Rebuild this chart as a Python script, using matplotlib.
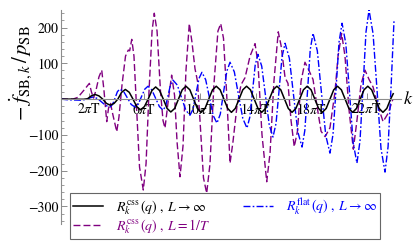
import matplotlib
matplotlib.use('Agg')
import matplotlib.pyplot as plt
from matplotlib.ticker import MultipleLocator

plt.rcParams['font.family'] = 'STIXGeneral'
plt.rcParams['mathtext.fontset'] = 'stix'

# k in units of pi*T

# R_k^css(q), L -> infinity  (black, solid)
k_css_inf = [0, 1.0, 1.36, 1.63, 1.91, 2.18, 2.45, 2.73, 3.00, 3.27, 3.54, 3.82, 4.09, 4.36,
             4.63, 4.91, 5.18, 5.45, 5.72, 6.00, 6.27, 6.54, 6.81, 7.09, 7.36, 7.63, 7.90,
             8.18, 8.45, 8.72, 8.99, 9.27, 9.54, 9.81, 10.08, 10.36, 10.63, 10.90, 11.17,
             11.45, 11.72, 11.99, 12.26, 12.54, 12.81, 13.08, 13.35, 13.63, 13.90, 14.17,
             14.44, 14.72, 14.99, 15.26, 15.53, 15.81, 16.08, 16.35, 16.62, 16.90, 17.17,
             17.44, 17.71, 17.99, 18.26, 18.53, 18.80, 19.08, 19.35, 19.62, 19.89, 20.17,
             20.44, 20.71, 20.98, 21.26, 21.53, 21.80, 22.07, 22.35, 22.62, 22.89, 23.16,
             23.44, 23.71, 23.90]
v_css_inf = [0, 0, -0.5, -0.5, 1, 9, 13, 9, 0, -12, -17, -12, 0, 19,
             27, 19, 0, -21, -30, -21, 0, 24, 34, 24, 0, -26, -36,
             -26, 0, 26, 36, 26, 0, -26, -37, -26, 0, 26, 36,
             26, 0, -26, -37, -26, 0, 26, 36, 26, 0, -26,
             -37, -26, 0, 26, 36, 26, 0, -26, -37, -26, 0,
             26, 36, 26, 0, -26, -37, -26, 0, 26, 36, 26,
             0, -26, -37, -26, 0, 26, 36, 26, 0, -26, -37,
             -26, 0, 15]

# R_k^css(q), L = 1/T  (purple, dashed)
k_css_T = [0, 0.86, 1.22, 1.65, 2.04, 2.19, 2.34, 2.52, 2.73, 2.93, 3.09, 3.29, 3.42, 3.56,
           3.74, 4.01, 4.17, 4.39, 4.64, 4.84, 4.94, 5.09, 5.25, 5.43, 5.65, 5.92, 6.12,
           6.33, 6.55, 6.71, 6.91, 7.16, 7.34, 7.48, 7.73, 7.96, 8.17, 8.35, 8.56, 8.78,
           8.99, 9.23, 9.42, 9.64, 9.82, 10.0, 10.25, 10.48, 10.72, 11.0, 11.29, 11.49,
           11.69, 11.91, 12.16, 12.37, 12.66, 12.95, 13.24, 13.6, 13.96, 14.17, 14.46,
           14.8, 15.04, 15.32, 15.63, 15.83, 16.12, 16.33, 16.55, 16.78, 17.01, 17.27,
           17.55, 17.84, 18.13, 18.42, 18.71, 19.0, 19.35, 19.71, 19.93, 20.19, 20.43,
           20.72, 21.03, 21.29, 21.58, 21.87, 22.16, 22.45, 22.81, 23.17, 23.53, 23.88]
v_css_T = [0, 0, 5, 25, 44, 20, 3, 25, 62, 81, 25, -63, -25, -12,
           -45, -91, -50, 40, 120, 137, 135, 167, 120, -20, -190, -254, -180,
           20, 190, 240, 190, 20, -60, -81, 0, 67, 10, -120, -217, -130,
           80, 211, 160, 85, 50, -60, -220, -263, -180, 40, 190, 211,
           170, 20, -179, -120, -20, 40, 60, 120, 155, 100, -100,
           -231, -150, 50, 188, 150, 60, 44, -60, -133, -90, 50,
           103, 80, 55, -20, -90, -105, -80, 20, 120, 183, 120,
           -30, -140, -60, 40, 81, 55, 34, -20, -63, -40, 0]

# R_k^flat(q), L -> infinity  (blue, dash-dot)
k_flat = [0, 0.5, 1.37, 1.8, 2.05, 2.3, 2.61, 2.92, 3.22, 3.53, 3.71, 3.89, 4.06, 4.24,
          4.51, 4.78, 5.05, 5.32, 5.56, 5.79, 6.03, 6.26, 6.53, 6.81, 7.08, 7.35, 7.53,
          7.71, 7.88, 8.06, 8.37, 8.67, 8.98, 9.28, 9.5, 9.71, 9.93, 10.14, 10.41, 10.68,
          10.95, 11.22, 11.46, 11.69, 11.93, 12.16, 12.47, 12.77, 13.08, 13.38, 13.58,
          13.78, 13.97, 14.17, 14.44, 14.71, 14.98, 15.25, 15.47, 15.69, 15.9, 16.12,
          16.43, 16.73, 17.04, 17.34, 17.54, 17.74, 17.93, 18.13, 18.44, 18.74, 19.05,
          19.35, 19.57, 19.79, 20.0, 20.22, 20.49, 20.76, 21.02, 21.29, 21.51, 21.73,
          21.94, 22.16, 22.45, 22.74, 23.02, 23.31, 23.53, 23.75, 23.96]
v_flat = [0, -2, -3, -1, 3, 6, 2, -8, -18, -22, -15, 3, 21, 28,
          21, 3, -15, -22, -14, 7, 28, 36, 26, 2, -21, -31, -19,
          11, 41, 53, 39, 4, -31, -45, -28, 15, 58, 75, 54, 4,
          -46, -67, -42, 18, 78, 103, 76, 11, -54, -81, -51,
          22, 95, 125, 92, 10, -72, -106, -68, 25, 118, 156,
          114, 11, -92, -134, -88, 25, 138, 184, 135, 17, -102,
          -151, -98, 30, 159, 212, 155, 17, -122, -179, -117, 35,
          187, 249, 183, 23, -138, -204, -133, 38, 222]

xtick_pos = [2, 6, 10, 14, 18, 22]
xtick_lab = [r'$2\pi\mathrm{T}$', r'$6\pi\mathrm{T}$', r'$10\pi\mathrm{T}$',
             r'$14\pi\mathrm{T}$', r'$18\pi\mathrm{T}$', r'$22\pi\mathrm{T}$']
ytick_pos = [-300, -200, -100, 100, 200]
ytick_lab = ['\u2212300', '\u2212200', '\u2212100', '100', '200']

purple = '#800080'
blue = '#0000ff'

fig = plt.figure(figsize=(4.15, 2.43), dpi=100)
ax = fig.add_axes([61/415, 19/243, 340/415, 214/243])

h2, = ax.plot(k_css_T, v_css_T, color=purple, lw=1.0, dashes=(5, 2.2),
              label=r'$R_k^{\mathrm{css}}\,(q)\;,\;L=1/T$')
h3, = ax.plot(k_flat, v_flat, color=blue, lw=1.0, dashes=(5, 1.6, 1.2, 1.6),
              label=r'$R_k^{\mathrm{flat}}\,(q)\;,\;L\to\infty$')
h1, = ax.plot(k_css_inf, v_css_inf, color='black', lw=1.1,
              label=r'$R_k^{\mathrm{css}}\,(q)\;,\;L\to\infty$')

ax.set_xlim(0, 24.46)
ax.set_ylim(-349, 249)
ax.set_axisbelow(True)

for s in ['top', 'right']:
    ax.spines[s].set_visible(False)
ax.spines['bottom'].set_position(('data', 0))
ax.spines['left'].set_position(('data', 0))
for s in ['bottom', 'left']:
    ax.spines[s].set_color('0.55')
    ax.spines[s].set_linewidth(0.8)

ax.set_xticks(xtick_pos, xtick_lab)
ax.set_yticks(ytick_pos, ytick_lab)
ax.yaxis.set_minor_locator(MultipleLocator(20))
ax.tick_params(which='both', direction='in', color='0.55', labelsize=10)
ax.tick_params(which='major', length=4, width=0.7)
ax.tick_params(which='minor', length=2, width=0.6)
ax.tick_params(axis='x', pad=2)
ax.tick_params(axis='y', pad=2)

fig.text(21/415, 1 - 73/243, r'$-\;\dot{f}_{\mathrm{SB},k}\,/\,p_{\mathrm{SB}}$',
         rotation=90, ha='center', va='center', fontsize=15)
fig.text(408/415, 1 - 99/243, r'$k$', ha='center', va='center', fontsize=13)

leg = ax.legend(handles=[h1, h2, h3], ncol=2, loc='lower left',
                bbox_to_anchor=(70/415, 4/243), bbox_transform=fig.transFigure,
                fancybox=False, edgecolor='0.4', framealpha=1, fontsize=10,
                handlelength=2.1, handletextpad=0.95, columnspacing=2.4,
                labelspacing=0.0, borderpad=0.25, borderaxespad=0,
                labelcolor='linecolor')
leg.get_frame().set_linewidth(0.8)

fig.savefig('out.png', dpi=100)
